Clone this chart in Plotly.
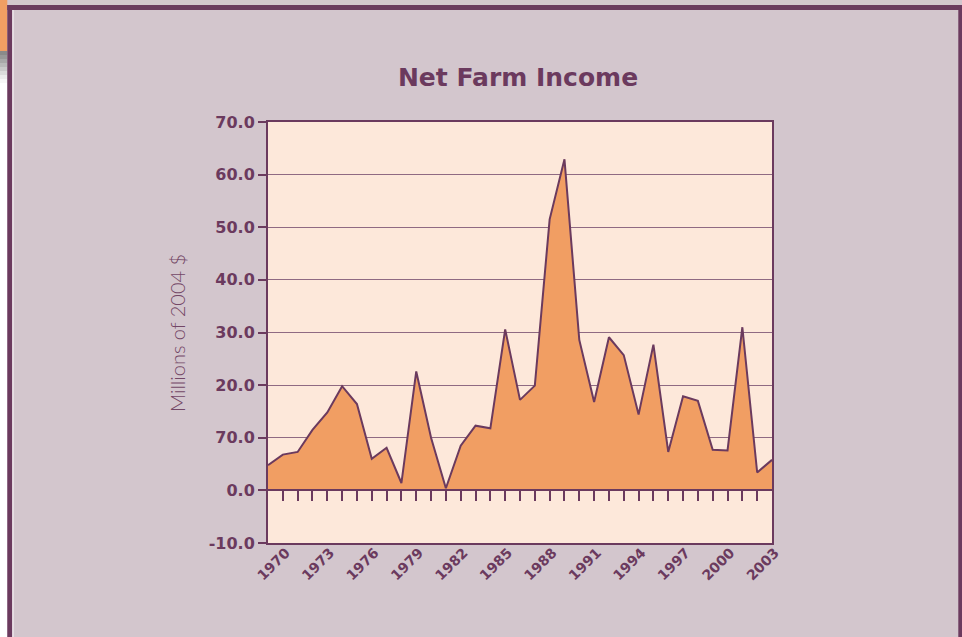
import plotly.graph_objects as go

# ---- data ----
years = list(range(1969, 2004))
income = [4.8, 6.8, 7.3, 11.5, 14.8, 19.8, 16.4, 6.0, 8.1, 1.4,
          22.6, 10.0, 0.4, 8.5, 12.3, 11.8, 30.6, 17.2, 19.9, 51.5,
          62.9, 28.6, 16.8, 29.1, 25.7, 14.4, 27.7, 7.3, 17.9, 17.0,
          7.7, 7.6, 31.0, 3.4, 5.8]
label_years = list(range(1970, 2004, 3))
label_text = [str(y) for y in label_years]
minor_years = list(range(1970, 2003))
y_ticks = [-10, 0, 10, 20, 30, 40, 50, 60, 70]
y_text = ["-10.0", "0.0", "70.0", "20.0", "30.0", "40.0", "50.0", "60.0", "70.0"]

PURPLE = "#6b3a5e"
BG = "#d3c6cd"
PLOTBG = "#fde8da"
ORANGE = "#f19e63"

W, H = 962, 637
L, R, T, B = 268, 772, 122, 543


def px(x):
    return (x - L) / (R - L)


def py(y):
    return (B - y) / (B - T)


fig = go.Figure()
fig.add_trace(go.Scatter(
    x=years, y=income, mode="lines", fill="tozeroy",
    fillcolor=ORANGE, line=dict(color=PURPLE, width=2),
    hoverinfo="x+y", showlegend=False))
fig.add_trace(go.Scatter(
    x=years, y=income, mode="lines", xaxis="x2",
    line=dict(color="rgba(0,0,0,0)", width=0),
    hoverinfo="skip", showlegend=False))

shapes = []


def rect(x0, y0, x1, y1, color):
    shapes.append(dict(type="rect", xref="paper", yref="paper",
                       x0=px(x0), x1=px(x1), y0=py(y0), y1=py(y1),
                       fillcolor=color, line=dict(width=0), layer="above"))


rect(0, 0, 7.3, 51, ORANGE)
grads = ["#8a8a8a", "#989898", "#a8a8a8", "#b9b9b9", "#cacaca", "#dbdbdb", "#ebebeb", "#f7f7f7"]
for i, c in enumerate(grads):
    rect(0, 51 + i * 4, 7.3, 55 + i * 4, c)
rect(0, 83, 7.3, 640, "#ffffff")
rect(7.3, 5, 12.3, 640, PURPLE)
rect(7.3, 5, 962, 10, PURPLE)
rect(958.3, 5, 962, 640, PURPLE)
rect(12.3, 10, 13.6, 640, "#f4eef1")

fig.update_layout(
    width=W, height=H,
    margin=dict(l=L, r=W - R, t=T, b=H - B),
    paper_bgcolor=BG, plot_bgcolor=PLOTBG,
    shapes=shapes,
    title=dict(text="Net Farm Income", xref="container", x=518 / W, xanchor="center",
               yref="container", y=1 - 77 / H, yanchor="middle",
               font=dict(family="DejaVu Sans", size=25, color=PURPLE, weight="bold")),
    xaxis=dict(range=[1969, 2003], tickvals=label_years, ticktext=label_text,
               tickangle=-45, ticks="", showgrid=False, zeroline=False,
               showline=True, linecolor=PURPLE, linewidth=2, mirror=True,
               ticklabelshift=3, ticklabelstandoff=-6,
               tickfont=dict(family="DejaVu Sans", size=14, color=PURPLE, weight="bold")),
    xaxis2=dict(range=[1969, 2003], overlaying="x", anchor="free", position=0.125,
                side="bottom", tickvals=minor_years, ticks="outside", ticklen=10,
                tickwidth=2, tickcolor=PURPLE, showticklabels=False, showgrid=False,
                zeroline=False, showline=True, linecolor=PURPLE, linewidth=2),
    yaxis=dict(range=[-10, 70], tickvals=y_ticks, ticktext=y_text,
               ticks="outside", ticklen=8, tickwidth=2, tickcolor=PURPLE,
               showline=True, linecolor=PURPLE, linewidth=2, mirror=True,
               showgrid=True, gridcolor="#8f6a82", gridwidth=1, zeroline=False,
               tickfont=dict(family="DejaVu Sans", size=16, color=PURPLE, weight="bold")),
    annotations=[dict(text="Millions of 2004 $", xref="paper", yref="paper",
                      x=px(177), y=py(333), textangle=-90, showarrow=False,
                      xanchor="center", yanchor="middle",
                      font=dict(family="Lato", size=20, color="#734766", weight=300))],
)

fig.write_html("out.html", config={"displayModeBar": False},
               post_script="document.body.style.margin='0';")
